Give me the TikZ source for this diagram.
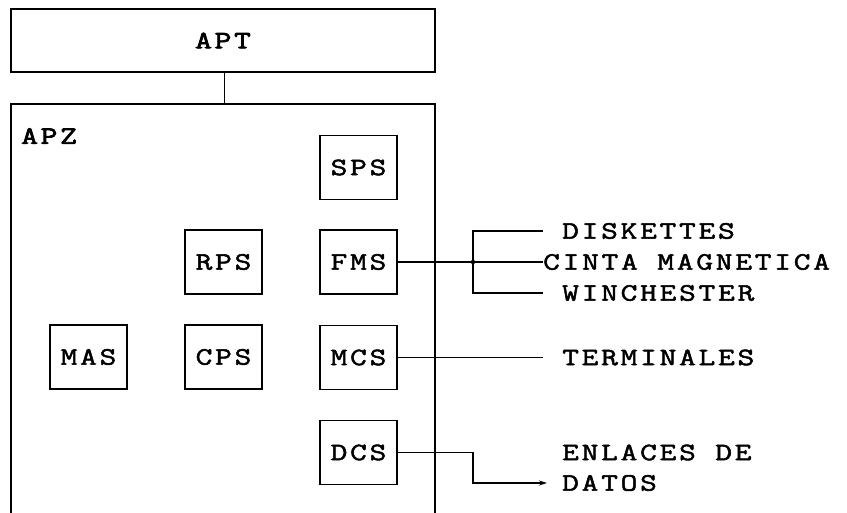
\documentclass[tikz,border=0pt]{standalone}
\usepackage{fontspec}
\newfontfamily\cour{Latin Modern Mono}[LetterSpace=11, FakeBold=2, FakeStretch=1.3]
\newfontfamily\courb{Latin Modern Mono}[LetterSpace=11, FakeBold=3, FakeStretch=1.3]
\usetikzlibrary{arrows.meta}
\newcommand\lblfont{\fontsize{25}{28}\selectfont\cour}
\newcommand\headfont{\fontsize{25}{28}\selectfont\courb}
\begin{document}
\begin{tikzpicture}[x=1pt,y=-1pt,
  box/.style={draw, line width=1.3pt, minimum width=77pt, minimum height=64pt, inner sep=0pt, font=\lblfont},
  lbl/.style={anchor=west, inner sep=0pt, font=\lblfont},
  wire/.style={line width=1.2pt}]
\useasboundingbox (0,0) rectangle (847,513);
% APT
\node[draw, line width=1.3pt, minimum width=424pt, minimum height=63pt, inner sep=0pt, font=\headfont] (apt) at (223,40.5) {APT};
% APZ frame (open at the bottom)
\coordinate (apzbl) at (11,513);
\coordinate (apztl) at (11,104);
\coordinate (apztop) at (224,104);
\coordinate (apztr) at (435,104);
\coordinate (apzbr) at (435,513);
\draw[line width=1.3pt] (apzbl) -- (apztl) -- (apztr) -- (apzbr);
\draw[line width=1pt] (apt.south -| apztop) -- (apztop);
\node[lbl, font=\headfont] (apz) at (21,136) {APZ};
% inner blocks
\node[box] (sps) at (358.5,167.5) {SPS};
\node[box] (rps) at (223.5,262) {RPS};
\node[box] (fms) at (358.5,262) {FMS};
\node[box] (mas) at (88.5,357) {MAS};
\node[box] (cps) at (223.5,357) {CPS};
\node[box] (mcs) at (358.5,357.5) {MCS};
\node[box] (dcs) at (358.5,452.5) {DCS};
% right-hand labels
\node[lbl] (disk) at (562,231) {DISKETTES};
\node[lbl] (cinta) at (543,262) {CINTA MAGNETICA};
\node[lbl] (winch) at (562,293) {WINCHESTER};
\node[lbl] (term) at (562,357.5) {TERMINALES};
\node[lbl] (enl) at (562,452.5) {ENLACES DE};
\node[lbl] (datos) at (562,483) {DATOS};
% connectors
\coordinate (brk) at (473,262);
\draw[wire] (fms.east) -- (brk) -- (cinta.west);
\draw[wire] ([xshift=-19pt]disk.west) -| (brk) |- ([xshift=-19pt]winch.west);
\fill (brk) circle (2.2pt);
\draw[wire] (mcs.east) -- ([xshift=-19pt]term.west);
\coordinate (dturn) at (473,452.5);
\draw[wire, -{Stealth[length=8pt,width=5pt]}] (dcs.east) -- (dturn) |- ([xshift=-15pt]datos.west);
\end{tikzpicture}
\end{document}
